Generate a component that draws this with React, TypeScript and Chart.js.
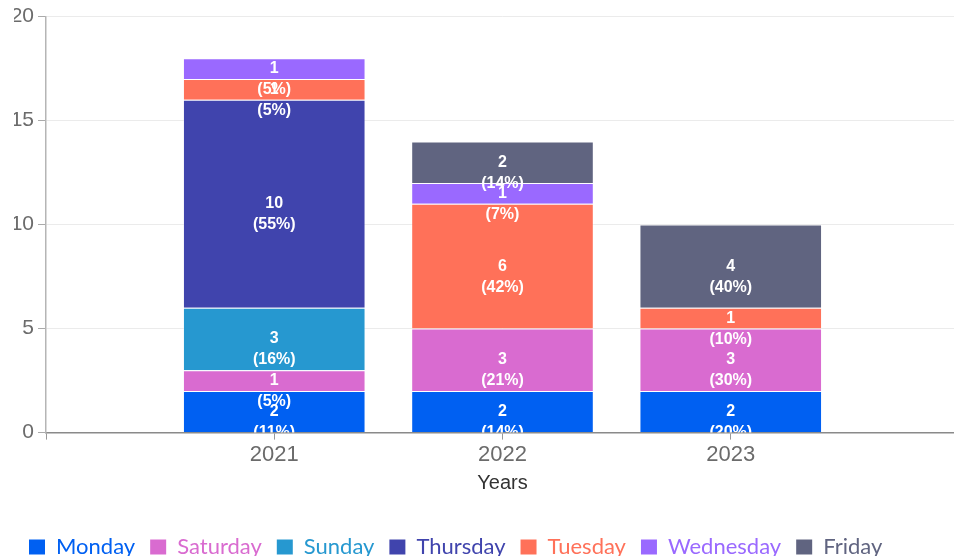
import React, { useEffect, useRef } from "react";
import { Chart, registerables } from "chart.js";

Chart.register(...registerables);

const years = ["2021", "2022", "2023"];
const seriesNames = ["Monday", "Saturday", "Sunday", "Thursday", "Tuesday", "Wednesday", "Friday"];
const monday = [2, 2, 2];
const saturday = [1, 3, 3];
const sunday = [3, 0, 0];
const thursday = [10, 0, 0];
const tuesday = [1, 6, 1];
const wednesday = [1, 1, 0];
const friday = [0, 2, 4];
const seriesColors = ["#0060F2", "#D96BD0", "#2698D0", "#4044AD", "#FF7159", "#9A69FF", "#606480"];
const yTicks = [0, 5, 10, 15, 20];
const xTitle = "Years";

const allSeries = [monday, saturday, sunday, thursday, tuesday, wednesday, friday];

const CANVAS_W = 961;
const CANVAS_H = 556;

export default function App() {
  const ref = useRef<HTMLCanvasElement | null>(null);

  useEffect(() => {
    document.body.style.margin = "0";
    document.body.style.overflow = "hidden";
    const canvas = ref.current;
    if (!canvas) return;

    const labels = ["", ...years, ""];
    const totals = years.map((_, i) => allSeries.reduce((s, arr) => s + arr[i], 0));

    const datasets = seriesNames.map((name, k) => ({
      label: name,
      data: [null, ...allSeries[k].map((v) => (v === 0 ? null : v)), null],
      backgroundColor: seriesColors[k],
      borderColor: "rgba(255,255,255,0.35)",
      borderWidth: 1,
      categoryPercentage: 0.8,
      barPercentage: 1,
      stack: "s",
    }));

    const labelPlugin = {
      id: "segLabels",
      afterDatasetsDraw(chart: any) {
        const ctx = chart.ctx;
        const area = chart.chartArea;
        ctx.save();
        ctx.beginPath();
        ctx.rect(area.left, area.top, area.right - area.left, area.bottom - area.top);
        ctx.clip();
        ctx.fillStyle = "#ffffff";
        ctx.textAlign = "center";
        ctx.textBaseline = "middle";
        ctx.font = "bold 16px Arial, 'Liberation Sans', sans-serif";
        chart.data.datasets.forEach((ds: any, di: number) => {
          const meta = chart.getDatasetMeta(di);
          meta.data.forEach((bar: any, i: number) => {
            const v = ds.data[i];
            if (v === null || v === undefined || v === 0) return;
            const total = totals[i - 1];
            const pct = Math.floor((v / total) * 100);
            const cy = (bar.y + bar.base) / 2;
            ctx.fillText(String(v), bar.x, cy);
            ctx.fillText("(" + pct + "%)", bar.x, cy + 21);
          });
        });
        ctx.restore();
      },
    };

    const chart = new Chart(canvas, {
      type: "bar",
      data: { labels, datasets: datasets as any },
      plugins: [labelPlugin],
      options: {
        responsive: false,
        animation: false,
        layout: { padding: { top: 16, left: 14, right: 0, bottom: -12 } },
        plugins: {
          tooltip: { enabled: false },
          legend: {
            position: "bottom",
            align: "start",
            labels: {
              boxWidth: 16,
              boxHeight: 15,
              padding: 15,
              font: { family: "Lato", size: 22 },
              generateLabels: (c: any) =>
                c.data.datasets.map((ds: any, i: number) => ({
                  text: ds.label,
                  fillStyle: ds.backgroundColor,
                  strokeStyle: ds.backgroundColor,
                  lineWidth: 0,
                  fontColor: ds.backgroundColor,
                  hidden: false,
                  datasetIndex: i,
                })),
            },
          },
        },
        scales: {
          x: {
            offset: false,
            stacked: true,
            grid: {
              display: true,
              offset: false,
              drawOnChartArea: false,
              drawTicks: true,
              tickLength: 7,
              color: "#999999",
            },
            border: { display: true, color: "#8a8a8a", width: 1.5 },
            ticks: {
              color: "#6b6b6b",
              font: { family: "Arial, 'Liberation Sans', sans-serif", size: 22 },
              padding: 2,
              maxRotation: 0,
              autoSkip: false,
            },
            title: {
              display: true,
              text: xTitle,
              color: "#333333",
              font: { family: "Arial, 'Liberation Sans', sans-serif", size: 20 },
              padding: { top: 1, bottom: 26 },
            },
          },
          y: {
            stacked: true,
            min: yTicks[0],
            max: yTicks[yTicks.length - 1],
            afterBuildTicks: (scale: any) => {
              scale.ticks = yTicks.map((v) => ({ value: v }));
            },
            afterFit: (scale: any) => {
              scale.width = 32;
            },
            grid: {
              color: "#ebebeb",
              tickColor: "#aaaaaa",
              tickLength: 8,
              lineWidth: 1,
            },
            border: { display: true, color: "#b5b5b5", width: 1.5 },
            ticks: {
              color: "#6b6b6b",
              font: { family: "Arial, 'Liberation Sans', sans-serif", size: 21 },
              padding: 4,
            },
          },
        },
      },
    });

    return () => chart.destroy();
  }, []);

  return (
    <div style={{ width: 954, height: CANVAS_H, overflow: "hidden" }}>
      <canvas ref={ref} width={CANVAS_W} height={CANVAS_H} style={{ display: "block" }} />
    </div>
  );
}
